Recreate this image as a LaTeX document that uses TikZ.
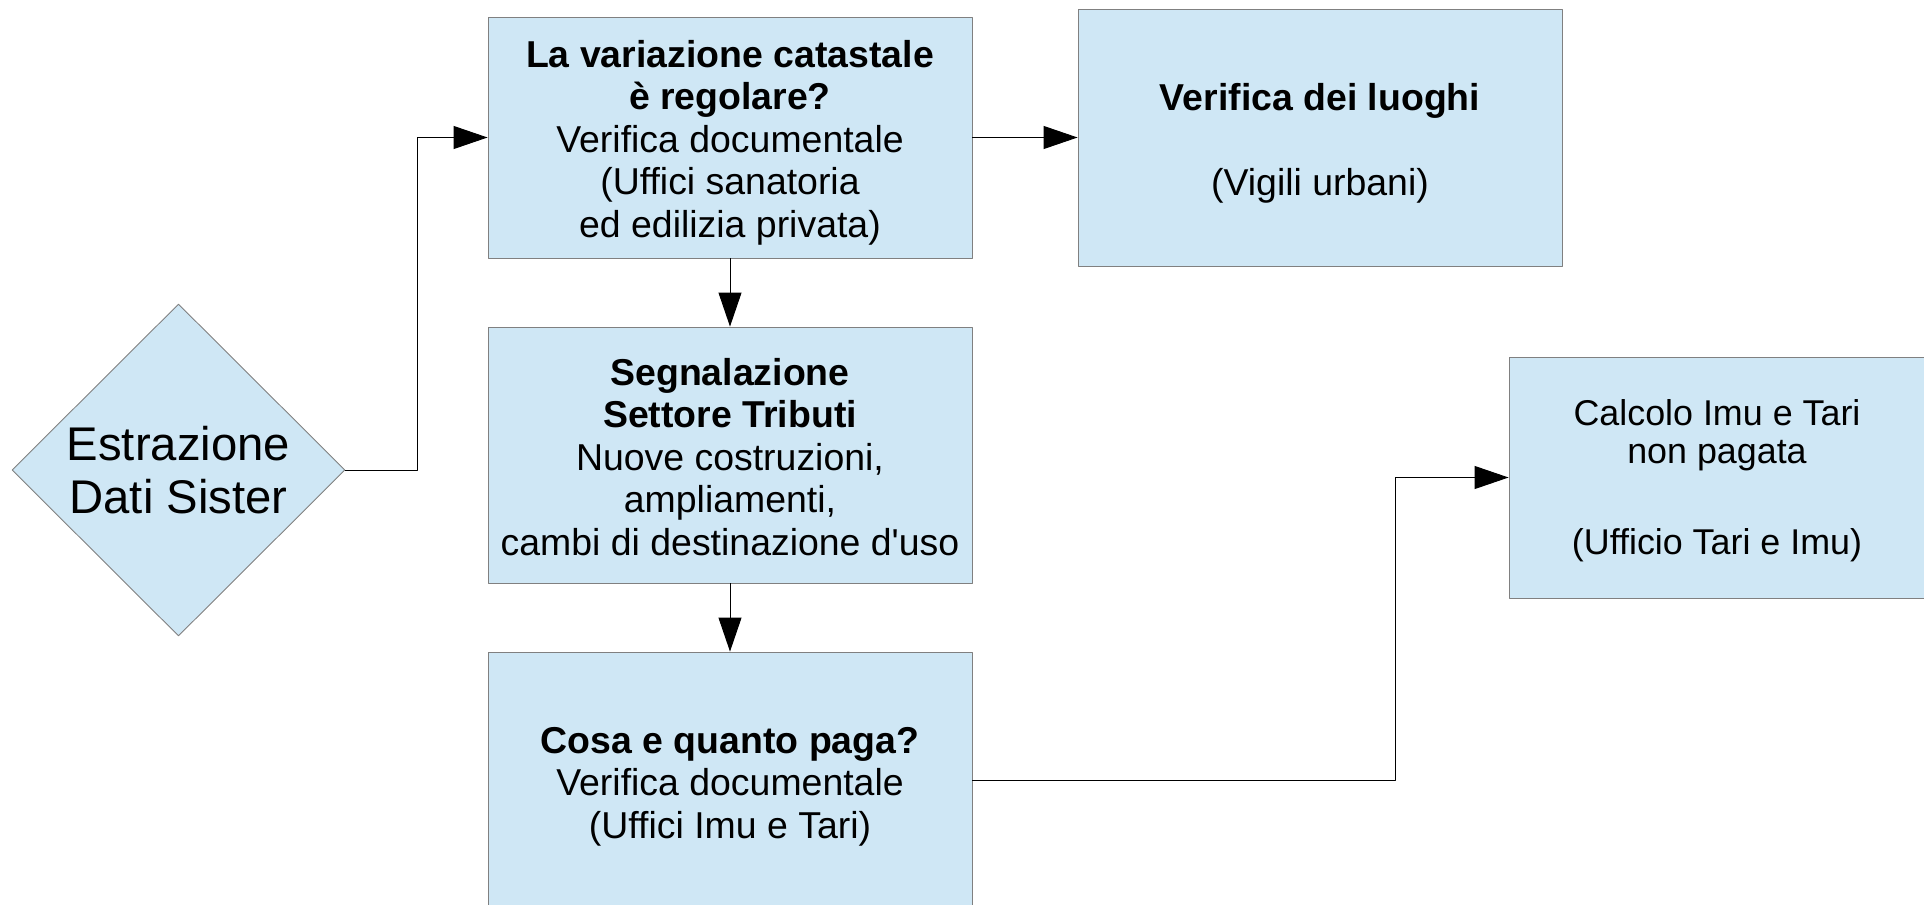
\documentclass[tikz,border=0pt]{standalone}
\usepackage{fontspec}
\setmainfont{Liberation Sans}
\usetikzlibrary{shapes.geometric,arrows.meta}
\definecolor{boxfill}{HTML}{CFE7F5}
\definecolor{boxline}{HTML}{808080}
\newcommand{\topdrop}[1]{\rule{0pt}{#1}}
\tikzset{
	box/.style={draw=boxline, fill=boxfill, line width=0.5pt, minimum width=9.68cm, minimum height=5.12cm, inner sep=0pt, align=center, font=\fontsize{21.3}{24.2}\selectfont},
	decision/.style={diamond, draw=boxline, fill=boxfill, line width=0.5pt, minimum width=6.66cm, minimum height=6.64cm, inner sep=0pt, align=center, font=\fontsize{26.9}{30.2}\selectfont},
	arr/.style={-{Triangle[length=6.8mm,width=4.6mm]}, line width=0.55pt}
}
\begin{document}
\begin{tikzpicture}[line join=round]
	\useasboundingbox (0,0) rectangle (38.48,-18.10);
	\clip (0,0) rectangle (38.48,-18.10);
	% nodes
	\node[decision] (estr) at (3.57,-9.40) {Estrazione\\Dati Sister};
	\node[box, minimum height=4.82cm] (var) at (14.60,-2.75) {\topdrop{21.2pt}\textbf{La variazione catastale}\\\textbf{è regolare?}\\Verifica documentale\\(Uffici sanatoria\\ed edilizia privata)};
	\node[box, minimum height=5.14cm] (luoghi) at (26.40,-2.75) {\topdrop{22.3pt}\textbf{Verifica dei luoghi}\\[24.2pt](Vigili urbani)};
	\node[box] (segn) at (14.60,-9.10) {\topdrop{17.8pt}\textbf{Segnalazione}\\\textbf{Settore Tributi}\\Nuove costruzioni,\\ampliamenti,\\cambi di destinazione d\textquotesingle uso};
	\node[box] (cosa) at (14.60,-15.60) {\topdrop{22.3pt}\textbf{Cosa e quanto paga?}\\Verifica documentale\\(Uffici Imu e Tari)};
	\node[box, minimum width=8.32cm, minimum height=4.82cm, font=\fontsize{20.4}{21.6}\selectfont] (calc) at (34.34,-9.55) {\topdrop{18.6pt}Calcolo Imu e Tari\\non pagata\\[30pt](Ufficio Tari e Imu)};
	% connectors
	\draw[arr] (estr.east) -- ++(1.44,0) |- (var.west);
	\draw[arr] (var.east) -- (luoghi.west);
	\draw[arr] (var.south) -- (segn.north);
	\draw[arr] (segn.south) -- (cosa.north);
	\draw[arr] (cosa.east) -- ++(8.46,0) |- (calc.west);
\end{tikzpicture}
\end{document}
